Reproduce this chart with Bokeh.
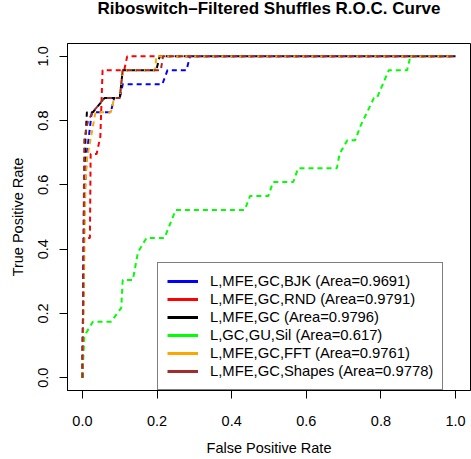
from bokeh.plotting import figure
from bokeh.models import Legend, LegendItem, Range1d, FixedTicker, PrintfTickFormatter, Title
from bokeh.embed import file_html
from bokeh.resources import INLINE

# ---- data ----
title_text = "Riboswitch\u2013Filtered Shuffles R.O.C. Curve"
series_names = ["L,MFE,GC,BJK", "L,MFE,GC,RND", "L,MFE,GC", "L,GC,GU,Sil",
                "L,MFE,GC,FFT", "L,MFE,GC,Shapes"]
areas = [0.9691, 0.9791, 0.9796, 0.617, 0.9761, 0.9778]
colors = ["#0000FF", "#FF0000", "#000000", "#00FF00", "#FFA500", "#A52A2A"]

fpr_bjk = [0, 0.004, 0.012, 0.025, 0.076, 0.085, 0.100, 0.108, 0.214, 0.228, 0.279, 0.288, 1.0]
tpr_bjk = [0, 0.520, 0.700, 0.826, 0.826, 0.870, 0.870, 0.913, 0.913, 0.957, 0.957, 1.000, 1.0]

fpr_rnd = [0, 0.004, 0.020, 0.022, 0.038, 0.048, 0.054, 0.112, 0.120, 1.0]
tpr_rnd = [0, 0.435, 0.435, 0.696, 0.696, 0.750, 0.957, 0.957, 1.000, 1.0]

fpr_gc = [0, 0.006, 0.008, 0.012, 0.028, 0.059, 0.100, 0.108, 0.198, 0.207, 1.0]
tpr_gc = [0, 0.650, 0.740, 0.826, 0.826, 0.870, 0.870, 0.957, 0.957, 1.000, 1.0]

fpr_sil = [0, 0.005, 0.028, 0.077, 0.104, 0.108, 0.135, 0.149, 0.172, 0.220, 0.250,
           0.435, 0.449, 0.498, 0.511, 0.565, 0.578, 0.682, 0.689, 0.710, 0.731,
           0.745, 0.781, 0.789, 0.821, 0.870, 0.879, 1.0]
tpr_sil = [0, 0.130, 0.174, 0.174, 0.217, 0.304, 0.304, 0.391, 0.435, 0.435, 0.522,
           0.522, 0.565, 0.565, 0.609, 0.609, 0.652, 0.652, 0.696, 0.739, 0.739,
           0.783, 0.870, 0.870, 0.957, 0.957, 1.000, 1.0]

fpr_fft = [0, 0.008, 0.012, 0.035, 0.076, 0.085, 0.100, 0.108, 0.195, 0.198, 1.0]
tpr_fft = [0, 0.600, 0.680, 0.826, 0.826, 0.870, 0.870, 0.957, 0.957, 1.000, 1.0]

fpr_shp = [0, 0.005, 0.015, 0.030, 0.059, 0.100, 0.108, 0.210, 0.216, 1.0]
tpr_shp = [0, 0.740, 0.800, 0.830, 0.870, 0.870, 0.957, 0.957, 1.000, 1.0]

curves = [(fpr_bjk, tpr_bjk), (fpr_rnd, tpr_rnd), (fpr_gc, tpr_gc),
          (fpr_sil, tpr_sil), (fpr_fft, tpr_fft), (fpr_shp, tpr_shp)]
tick_values = [0.0, 0.2, 0.4, 0.6, 0.8, 1.0]

FONT = "Liberation Sans"

p = figure(width=471, height=459,
           x_range=Range1d(-0.04, 1.04), y_range=Range1d(-0.04, 1.04),
           output_backend="svg", toolbar_location=None,
           min_border_left=67, min_border_right=1,
           min_border_top=43, min_border_bottom=69,
           x_axis_label="False Positive Rate", y_axis_label="True Positive Rate")

# spacer (closest to frame) then the real title above it
spacer = Title(text=" ", text_font=FONT, text_font_size="10px", standoff=14)
p.add_layout(spacer, "above")
main_title = Title(text=title_text, text_font=FONT, text_font_size="17px",
                   text_font_style="bold", text_color="black", align="center",
                   vertical_align="top", standoff=-6)
p.add_layout(main_title, "above")

p.xgrid.visible = False
p.ygrid.visible = False
p.outline_line_color = "black"
p.outline_line_width = 1
p.outline_line_alpha = 1
p.background_fill_color = "white"
p.border_fill_color = "white"

for ax in (p.xaxis[0], p.yaxis[0]):
    ax.ticker = FixedTicker(ticks=tick_values)
    ax.formatter = PrintfTickFormatter(format="%.1f")
    ax.axis_line_color = "black"
    ax.major_tick_line_color = "black"
    ax.major_tick_out = 8
    ax.major_tick_in = 0
    ax.minor_tick_line_color = None
    ax.major_label_text_font = FONT
    ax.major_label_text_font_size = "14.5px"
    ax.major_label_text_color = "black"
    ax.axis_label_text_font = FONT
    ax.axis_label_text_font_size = "14.5px"
    ax.axis_label_text_font_style = "normal"
    ax.axis_label_text_color = "black"

p.xaxis[0].major_label_standoff = 17
p.xaxis[0].axis_label_standoff = 11
p.yaxis[0].major_label_orientation = "vertical"
p.yaxis[0].major_label_standoff = 11
p.yaxis[0].axis_label_standoff = 10

for (xs, ys), col in zip(curves, colors):
    p.line(xs, ys, line_color=col, line_width=2, line_dash="5 4")

items = []
for (xs, ys), name, area, col in zip(curves, series_names, areas, colors):
    proxy = p.line(xs, ys, line_color=col, line_width=3, visible=False)
    items.append(LegendItem(label=f"{name} (Area={area})", renderers=[proxy]))

legend = Legend(items=items, location=(90, 0),
                border_line_color="black", border_line_width=1,
                background_fill_color="white", background_fill_alpha=1,
                inactive_fill_alpha=0,
                label_text_font=FONT, label_text_font_size="14.8px",
                label_text_color="black",
                glyph_width=31, glyph_height=18, label_height=18,
                label_standoff=12, spacing=0, padding=9, margin=0)
p.add_layout(legend)

open("out.html", "w").write(file_html(p, INLINE))
